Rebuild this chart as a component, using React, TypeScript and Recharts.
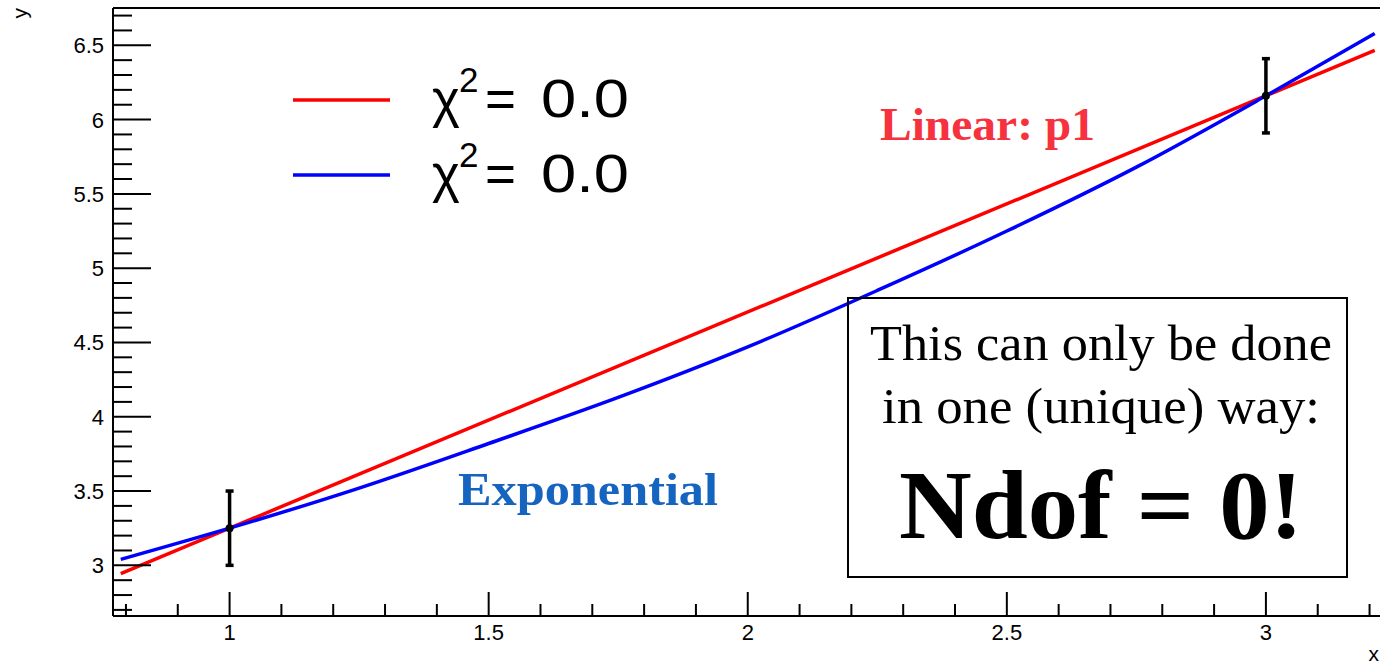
import React from "react";
import {
  ComposedChart,
  Line,
  Scatter,
  ErrorBar,
  XAxis,
  YAxis,
  ReferenceLine,
} from "recharts";

// ---- data ----
const linearX = [0.79, 3.21];
const linearY = [2.944, 6.466];

const expX = [0.79, 1.0, 1.25, 1.5, 1.75, 2.0, 2.25, 2.5, 2.75, 3.0, 3.21];
const expY = [3.04, 3.25, 3.52, 3.82, 4.13, 4.47, 4.85, 5.25, 5.68, 6.16, 6.58];

const pointX = [1, 3];
const pointY = [3.25, 6.16];
const pointErr = [0.25, 0.25];

// ---- axes ----
const xDomain = [0.775, 3.225];
const yDomain = [2.659, 6.751];
const xMajorTicks = [1, 1.5, 2, 2.5, 3];
const xTickLabels = ["1", "1.5", "2", "2.5", "3"];
const yMajorTicks = [3, 3.5, 4, 4.5, 5, 5.5, 6, 6.5];
const yTickLabels = ["3", "3.5", "4", "4.5", "5", "5.5", "6", "6.5"];
const xMinorStart = 0.8;
const xMinorCount = 25; // 0.8 .. 3.2 step 0.1
const yMinorStart = 2.7;
const yMinorCount = 41; // 2.7 .. 6.7 step 0.1

const xAllTicks = Array.from({ length: xMinorCount }, (_, i) =>
  Number((xMinorStart + i * 0.1).toFixed(1))
);
const yAllTicks = Array.from({ length: yMinorCount }, (_, i) =>
  Number((yMinorStart + i * 0.1).toFixed(1))
);

const linearData = linearX.map((x, i) => ({ x, y: linearY[i] }));
const expData = expX.map((x, i) => ({ x, y: expY[i] }));
const pointData = pointX.map((x, i) => ({ x, y: pointY[i], err: pointErr[i] }));

const SANS = "'Liberation Sans', Arial, Helvetica, sans-serif";
const SERIF = "'Liberation Serif', 'Times New Roman', serif";

const YTick = (props: any) => {
  const { x, y, payload } = props;
  const v = Number(Number(payload.value).toFixed(2));
  const idx = yMajorTicks.findIndex((m) => Math.abs(m - v) < 1e-6);
  const major = idx >= 0;
  return (
    <g>
      <line x1={x} x2={x + (major ? 38 : 19)} y1={y} y2={y} stroke="#000" strokeWidth={2} />
      {major && (
        <text x={x - 9} y={y + 8} textAnchor="end" fontSize={22} fontFamily={SANS} fill="#000">
          {yTickLabels[idx]}
        </text>
      )}
    </g>
  );
};

const XTick = (props: any) => {
  const { x, y, payload } = props;
  const v = Number(Number(payload.value).toFixed(2));
  const idx = xMajorTicks.findIndex((m) => Math.abs(m - v) < 1e-6);
  const major = idx >= 0;
  return (
    <g>
      <line x1={x} x2={x} y1={y} y2={y - (major ? 24 : 12)} stroke="#000" strokeWidth={2} />
      {major && (
        <text x={x} y={y + 24} textAnchor="middle" fontSize={22} fontFamily={SANS} fill="#000">
          {xTickLabels[idx]}
        </text>
      )}
    </g>
  );
};

const PointShape = (props: any) => {
  const { cx, cy } = props;
  return <circle cx={cx} cy={cy} r={4} fill="#000" />;
};

export default function App() {
  return (
    <div
      style={{
        position: "absolute",
        left: 0,
        top: 0,
        width: 1380,
        height: 666,
        overflow: "hidden",
        background: "#fff",
      }}
    >
      <ComposedChart
        width={1400}
        height={666}
        margin={{ top: 8, right: 17.5, bottom: 0, left: 0 }}
      >
        <XAxis
          dataKey="x"
          type="number"
          domain={xDomain}
          allowDataOverflow
          ticks={xAllTicks}
          interval={0}
          tickLine={false}
          tickSize={0}
          tickMargin={0}
          tick={<XTick />}
          axisLine={{ stroke: "#000", strokeWidth: 2 }}
          height={50}
        />
        <YAxis
          dataKey="y"
          type="number"
          domain={yDomain}
          allowDataOverflow
          ticks={yAllTicks}
          interval={0}
          tickLine={false}
          tickSize={0}
          tickMargin={0}
          tick={<YTick />}
          axisLine={{ stroke: "#000", strokeWidth: 2 }}
          width={113}
        />
        <ReferenceLine y={yDomain[1]} stroke="#000" strokeWidth={2} />
        <Scatter data={pointData} dataKey="y" fill="#000" shape={<PointShape />} isAnimationActive={false}>
          <ErrorBar dataKey="err" direction="y" width={4} stroke="#000" strokeWidth={3.5} />
        </Scatter>
        <Line
          data={linearData}
          dataKey="y"
          type="linear"
          stroke="#ff0000"
          strokeWidth={3.5}
          dot={false}
          activeDot={false}
          isAnimationActive={false}
        />
        <Line
          data={expData}
          dataKey="y"
          type="monotone"
          stroke="#0000ff"
          strokeWidth={3.5}
          dot={false}
          activeDot={false}
          isAnimationActive={false}
        />
      </ComposedChart>

      <svg
        width={1380}
        height={666}
        style={{ position: "absolute", left: 0, top: 0, pointerEvents: "none" }}
      >
        {/* axis titles */}
        <text
          x={27}
          y={8}
          transform="rotate(-90 27 8)"
          textAnchor="end"
          fontSize={21}
          fontFamily={SANS}
          fill="#000"
        >
          y
        </text>
        <text x={1379} y={661} textAnchor="end" fontSize={21} fontFamily={SANS} fill="#000">
          x
        </text>

        {/* legend */}
        <line x1={293} x2={390} y1={100} y2={100} stroke="#ff0000" strokeWidth={3.5} />
        <line x1={293} x2={390} y1={175} y2={175} stroke="#0000ff" strokeWidth={3.5} />
        {[117, 192].map((by, i) => (
          <g key={i} fontFamily={SANS} fill="#000">
            <text x={432} y={by} fontSize={53}>χ</text>
            <text x={459} y={by - 25} fontSize={35}>2</text>
            <text x={485} y={by} fontSize={53}>=</text>
            <text x={541} y={by} fontSize={54} textLength={88} lengthAdjust="spacingAndGlyphs">0.0</text>
          </g>
        ))}

        {/* annotations */}
        <text
          x={880}
          y={140}
          fontSize={47}
          fontWeight="bold"
          fontFamily={SERIF}
          fill="#f5323d"
          textLength={215}
          lengthAdjust="spacingAndGlyphs"
        >
          Linear: p1
        </text>
        <text
          x={458}
          y={505}
          fontSize={47}
          fontWeight="bold"
          fontFamily={SERIF}
          fill="#1565c0"
          textLength={260}
          lengthAdjust="spacingAndGlyphs"
        >
          Exponential
        </text>

        <rect x={848} y={298} width={499} height={279} fill="none" stroke="#000" strokeWidth={2} />
        <text
          x={870}
          y={360}
          fontSize={51}
          fontFamily={SERIF}
          fill="#000"
          textLength={462}
          lengthAdjust="spacingAndGlyphs"
        >
          This can only be done
        </text>
        <text
          x={882}
          y={423}
          fontSize={51}
          fontFamily={SERIF}
          fill="#000"
          textLength={438}
          lengthAdjust="spacingAndGlyphs"
        >
          in one (unique) way:
        </text>
        <text
          x={899}
          y={538}
          fontSize={98}
          fontWeight="bold"
          fontFamily={SERIF}
          fill="#000"
          textLength={404}
          lengthAdjust="spacingAndGlyphs"
        >
          Ndof = 0!
        </text>
      </svg>
    </div>
  );
}
